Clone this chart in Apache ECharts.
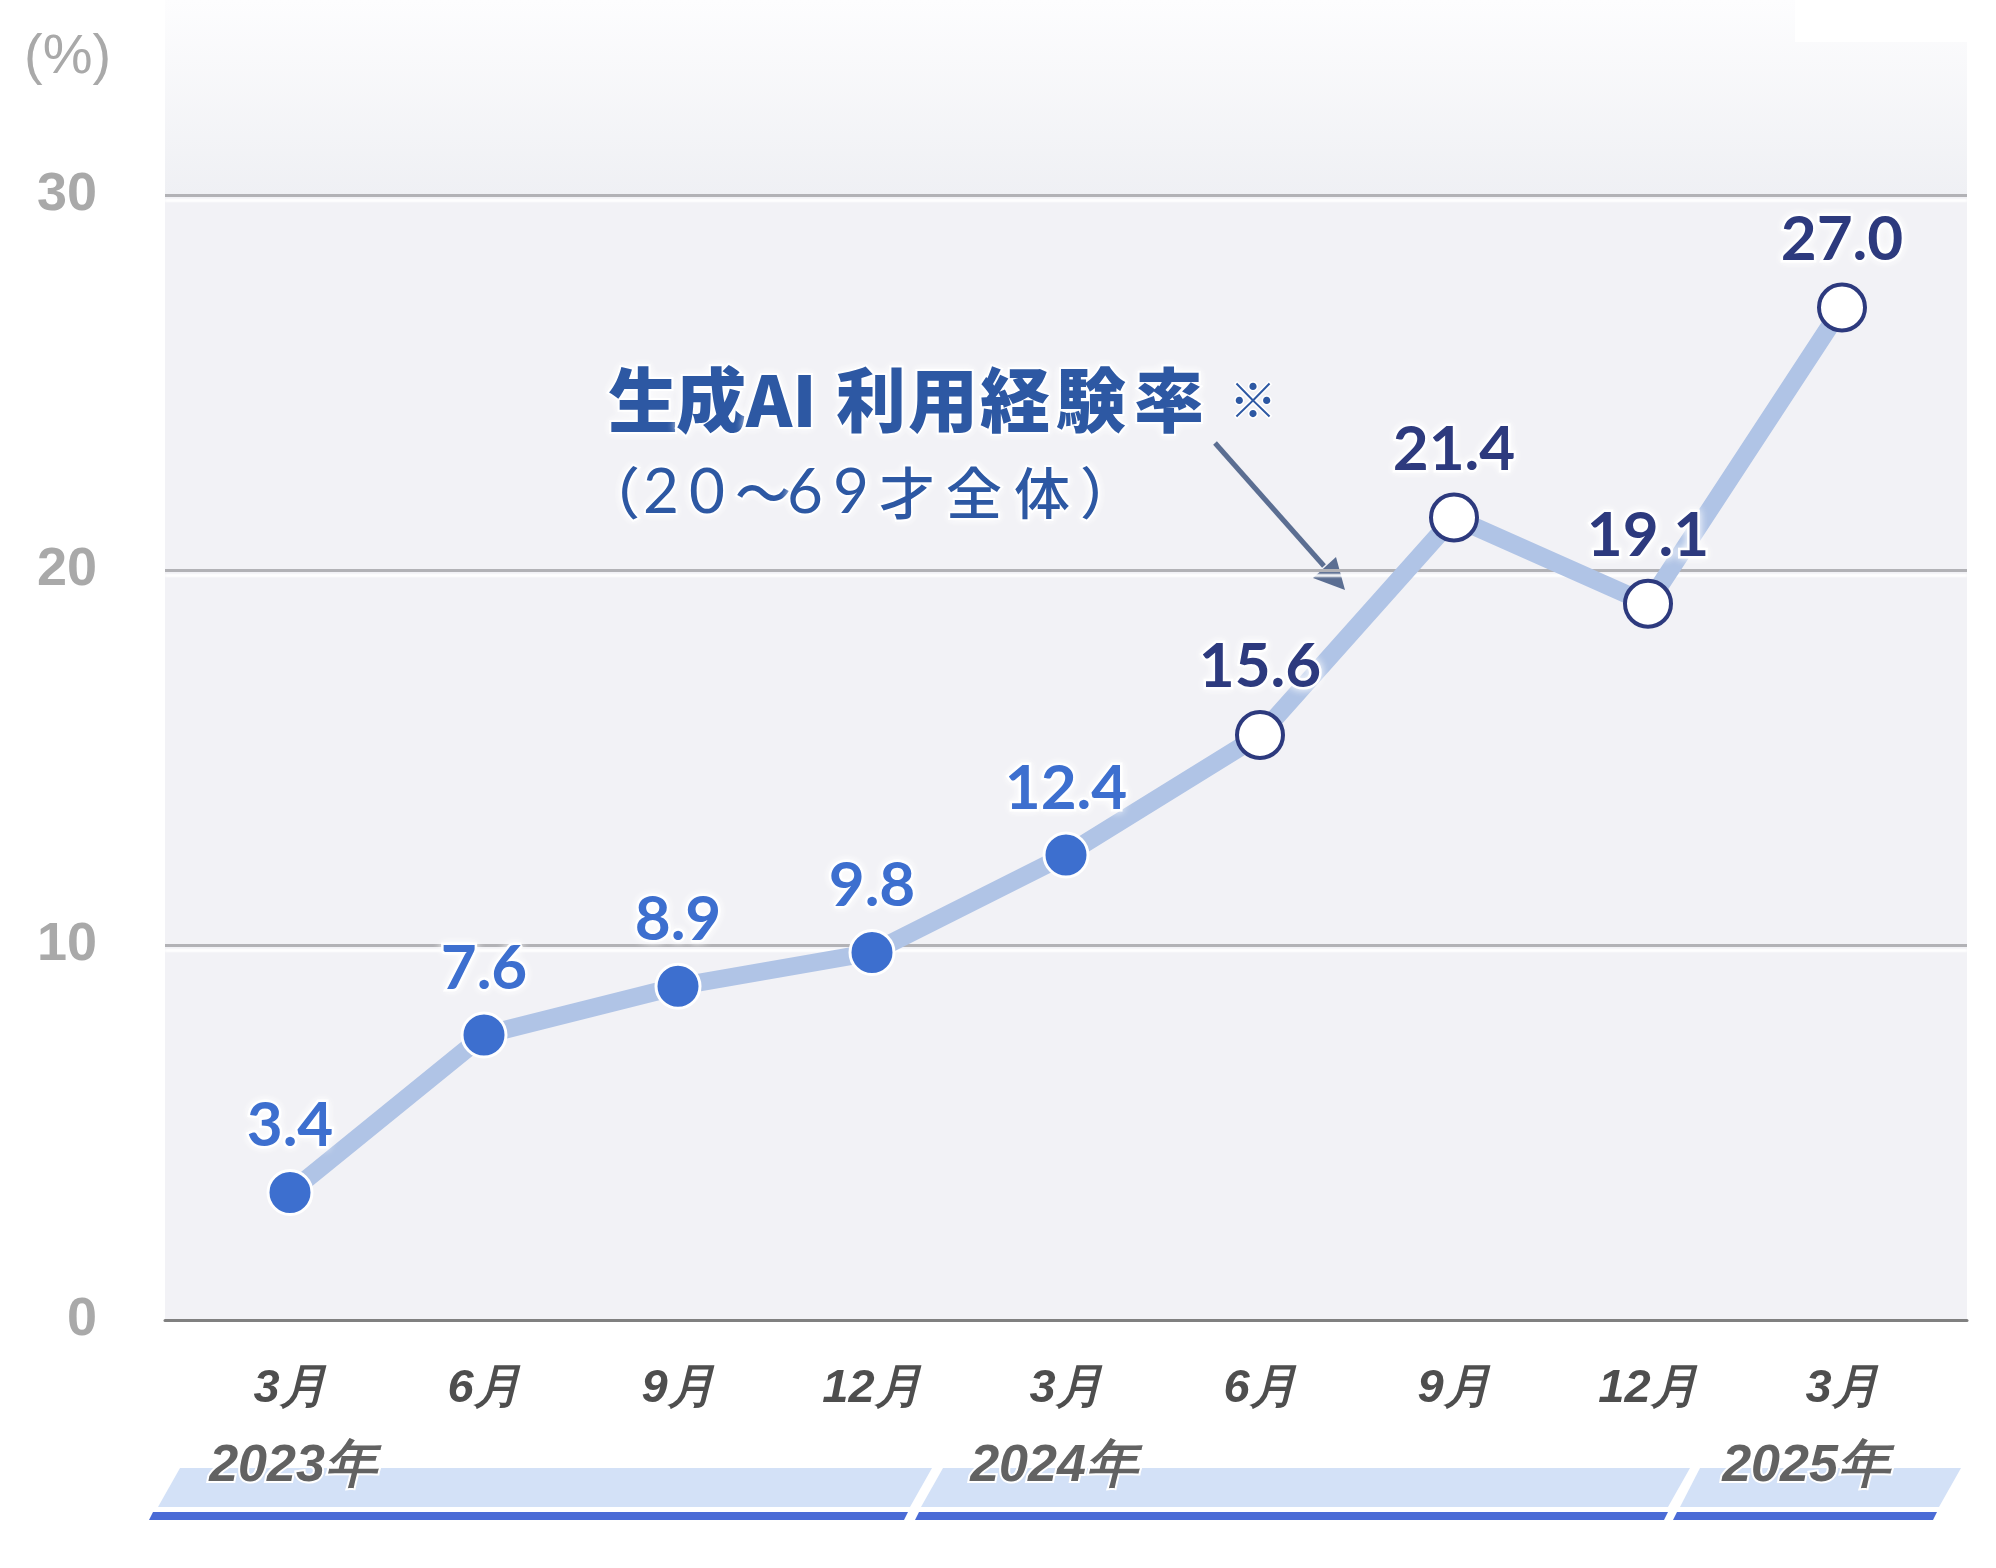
<!DOCTYPE html>
<html>
<head>
<meta charset="utf-8">
<script src="https://cdn.jsdelivr.net/npm/echarts@6/dist/echarts.min.js"></script>
<style>
html,body{margin:0;padding:0;background:#ffffff;}
#chart{width:1996px;height:1568px;}
</style>
</head>
<body>
<div id="chart"></div>
<script>
// ---- data ----
var months = ['3月', '6月', '9月', '12月', '3月', '6月', '9月', '12月', '3月'];
var rates = [3.4, 7.6, 8.9, 9.8, 12.4, 15.6, 21.4, 19.1, 27.0];
var hollowFrom = 5; // points from this index on are drawn as open circles
var yTicks = [0, 10, 20, 30];
var years = ['2023年', '2024年', '2025年'];
var titleParts = ['生', '成', 'AI', '利', '用', '経', '験', '率'];
var titleNote = '※';
var subParts = ['（', '2', '0', '～', '6', '9', '才', '全', '体', '）'];
var unitLabel = '(%)';

var chart = echarts.init(document.getElementById('chart'), null, {renderer: 'canvas'});

var BLUE = '#3d6fcf';
var NAVY = '#2d3a7e';
var LINE = '#b0c4e6';
var TXT = '#2d58a3';
var labelFont = 'Lato, "Noto Sans", sans-serif';
var axisFont = '"Liberation Sans", Arial, sans-serif';
var cjkFont = '"Noto Sans CJK JP", sans-serif';

// token box widths (layout only)
var titleW = [68, 70, 90, 72, 72, 76, 78, 95];
var subW = [59, 46, 46, 52, 46, 46, 67, 68, 66, 40];

var titleRich = {}, titleText = '';
titleParts.forEach(function (ch, i) {
  titleRich['t' + i] = {fontSize: 70, fontWeight: 900, color: TXT, lineHeight: 72,
    fontFamily: cjkFont, width: titleW[i], align: 'left',
    textBorderColor: '#ffffff', textBorderWidth: 4,
    textShadowColor: 'rgba(255,255,255,0.9)', textShadowBlur: 8};
  titleText += '{t' + i + '|' + ch + '}';
});
titleRich.n = {fontSize: 48, color: TXT, lineHeight: 72, fontFamily: cjkFont,
  textBorderColor: '#ffffff', textBorderWidth: 3};
titleText += '{n|' + titleNote + '}';

var subRich = {}, subText = '';
subParts.forEach(function (ch, i) {
  var digit = /[0-9]/.test(ch);
  subRich['s' + i] = {fontSize: digit ? 62 : 56, fontWeight: digit ? 'normal' : 500,
    color: TXT, lineHeight: 58,
    fontFamily: digit ? 'Lato, "Noto Sans", sans-serif' : cjkFont, width: subW[i], align: 'left',
    textBorderColor: '#ffffff', textBorderWidth: 4,
    textShadowColor: 'rgba(255,255,255,0.9)', textShadowBlur: 8};
  subText += '{s' + i + '|' + ch + '}';
});

var pointData = rates.map(function (v, i) {
  var hollow = i >= hollowFrom;
  return {
    value: v,
    symbolSize: hollow ? 46 : 44,
    itemStyle: hollow
      ? {color: '#ffffff', borderColor: NAVY, borderWidth: 4}
      : {color: BLUE, borderColor: '#ffffff', borderWidth: 3},
    label: {color: hollow ? NAVY : BLUE}
  };
});

var yearStyle = function (t) {
  return {text: t, fontSize: 52, fontStyle: 'italic', fontWeight: 'bold', fill: '#626262',
    align: 'center', verticalAlign: 'middle', fontFamily: axisFont,
    stroke: '#ffffff', lineWidth: 4};
};

var option = {
  animation: false,
  backgroundColor: '#ffffff',
  title: [
    {text: titleText, left: 608, top: 364, padding: 0, textStyle: {rich: titleRich}},
    {text: subText, left: 584, top: 464, padding: 0, textStyle: {rich: subRich}}
  ],
  grid: [
    {left: 193, right: 57, top: 195, bottom: 248, show: false},
    {left: 165, right: 29, top: 195, bottom: 248, show: true,
     backgroundColor: '#f2f2f6', borderWidth: 0, z: -1}
  ],
  xAxis: [
    {
      type: 'category', gridIndex: 0, data: months, boundaryGap: true,
      axisLine: {show: false}, axisTick: {show: false}, splitLine: {show: false},
      axisLabel: {margin: 46, fontSize: 47, fontStyle: 'italic', fontWeight: 'bold',
        color: '#4e4e4e', fontFamily: axisFont, lineHeight: 47}
    },
    {
      type: 'value', gridIndex: 1, min: 0, max: 1,
      axisLine: {show: true, lineStyle: {color: '#808080', width: 3}},
      axisTick: {show: false}, axisLabel: {show: false}, splitLine: {show: false}
    }
  ],
  yAxis: [
    {type: 'value', gridIndex: 0, min: 0, max: 30, interval: 10, show: false,
     splitLine: {show: false}},
    {
      type: 'value', gridIndex: 1, min: yTicks[0], max: yTicks[yTicks.length - 1], interval: 10,
      axisLine: {show: false}, axisTick: {show: false},
      axisLabel: {margin: 68, fontSize: 54, fontWeight: 'bold', color: '#a9a9a9',
        fontFamily: '"Liberation Sans Narrow", "Liberation Sans", Arial, sans-serif'},
      splitLine: {show: true, lineStyle: {color: '#b2b2b6', width: 3,
        shadowColor: '#ffffff', shadowOffsetY: 5, shadowBlur: 2}}
    }
  ],
  graphic: [
    {type: 'rect', z: -2, shape: {x: 165, y: 0, width: 1802, height: 195},
     style: {fill: new echarts.graphic.LinearGradient(0, 0, 0, 1, [
       {offset: 0, color: '#fdfdfe'}, {offset: 1, color: '#eff0f4'}])}},
    {type: 'rect', z: -1, shape: {x: 1795, y: 0, width: 172, height: 42},
     style: {fill: '#ffffff'}},
    {type: 'text', left: 24, top: 30, style: {text: unitLabel, fontSize: 56,
      fill: '#a9a9a9', fontFamily: '"Liberation Sans", Arial, sans-serif'}},
    // arrow
    {type: 'line', shape: {x1: 1215, y1: 443, x2: 1324, y2: 566},
     style: {stroke: '#5b6e92', lineWidth: 5}},
    {type: 'polygon', shape: {points: [[1345, 590], [1313, 578], [1336, 557]]},
     style: {fill: '#5b6e92'}},
    // year bands
    {type: 'polygon', shape: {points: [[180, 1468], [932, 1468], [910, 1507], [158, 1507]]}, style: {fill: '#d3e1f7'}},
    {type: 'polygon', shape: {points: [[943, 1468], [1690, 1468], [1668, 1507], [921, 1507]]}, style: {fill: '#d3e1f7'}},
    {type: 'polygon', shape: {points: [[1700, 1468], [1961, 1468], [1939, 1507], [1680, 1507]]}, style: {fill: '#d3e1f7'}},
    {type: 'polygon', shape: {points: [[153, 1512], [908, 1512], [904, 1520], [149, 1520]]}, style: {fill: '#4a6bd6'}},
    {type: 'polygon', shape: {points: [[919, 1512], [1668, 1512], [1664, 1520], [915, 1520]]}, style: {fill: '#4a6bd6'}},
    {type: 'polygon', shape: {points: [[1677, 1512], [1937, 1512], [1933, 1520], [1673, 1520]]}, style: {fill: '#4a6bd6'}},
    {type: 'text', x: 293, y: 1467, z: 10, style: yearStyle(years[0])},
    {type: 'text', x: 1054, y: 1467, z: 10, style: yearStyle(years[1])},
    {type: 'text', x: 1806, y: 1467, z: 10, style: yearStyle(years[2])}
  ],
  series: [
    {
      type: 'line', xAxisIndex: 0, yAxisIndex: 0, data: pointData,
      symbol: 'circle', showAllSymbol: true,
      lineStyle: {color: LINE, width: 18, cap: 'round', join: 'round'},
      label: {show: true, position: 'top', distance: 12,
        formatter: function (p) { return p.value.toFixed(1); },
        fontSize: 62, fontWeight: 'bold', fontFamily: labelFont,
        textBorderColor: '#ffffff', textBorderWidth: 5,
        textShadowColor: 'rgba(255,255,255,0.9)', textShadowBlur: 8},
      z: 3
    }
  ]
};
chart.setOption(option);
</script>
</body>
</html>
